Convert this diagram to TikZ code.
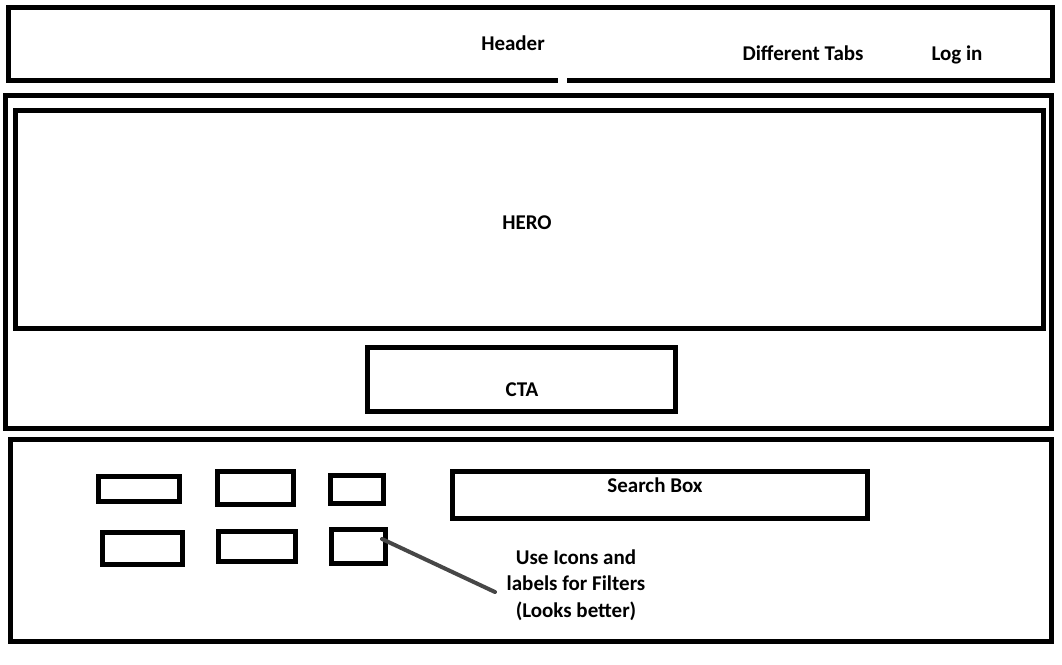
\documentclass[tikz,border=0pt]{standalone}
\usepackage{fontspec}
\setmainfont{Carlito}
\usetikzlibrary{calc}
\begin{document}
\begin{tikzpicture}[x=1pt, y=-1pt,
  frame/.style={draw=black, line width=5pt, inner sep=0pt, outer sep=0pt, minimum width=#1},
  lbl/.style={font=\fontsize{21}{26.5}\selectfont\bfseries, inner sep=0pt, align=center, anchor=base},
  conn/.style={draw=black!72, line width=4pt, line cap=round}]
\useasboundingbox (0,0) rectangle (1062,664);
\fill[white] (0,0) rectangle (1062,664);

% page sections
\node[frame=1044pt, minimum height=72.5pt] (header) at (530.5,43.75) {};
\fill[white] (558,76) rectangle (567,84); % small break in the header's lower edge
\node[frame=1046pt, minimum height=333pt] (herosec) at (528.5,262) {};
\node[frame=1028pt, minimum height=218pt] (hero) at (529.5,219.5) {};
\node[frame=308pt, minimum height=64pt] (cta) at (521.5,379.5) {};
\node[frame=1041pt, minimum height=202pt] (searchsec) at (531,540.5) {};
\node[frame=415pt, minimum height=47pt] (search) at (660,495) {};

% filter chips
\node[frame=81pt, minimum height=25pt] (f1) at (139,489) {};
\node[frame=76pt, minimum height=33pt] (f2) at (255.5,488) {};
\node[frame=53pt, minimum height=28pt] (f3) at (357,489.5) {};
\node[frame=80pt, minimum height=32pt] (f4) at (142.5,548.5) {};
\node[frame=77pt, minimum height=30pt] (f5) at (257,546.5) {};
\node[frame=54pt, minimum height=34pt] (f6) at (358.5,546.5) {};

% labels
\node[lbl] (tHeader) at (513,50) {Header};
\node[lbl] (tTabs) at (803,60) {Different Tabs};
\node[lbl] (tLogin) at (957,60) {Log in};
\node[lbl] (tHero) at (527,229.5) {HERO};
\node[lbl] (tCta) at (522,396) {CTA};
\node[lbl] (tSearch) at (655,492) {Search Box};
\node[lbl] (tNote) at (576,617) {Use Icons and\\labels for Filters\\(Looks better)};

% pointer from the note to the filter chip
\coordinate (noteEnd) at (495,592);
\draw[conn] ([shift={(-3.5,-7.5)}]f6.east) -- (noteEnd);
\end{tikzpicture}
\end{document}
